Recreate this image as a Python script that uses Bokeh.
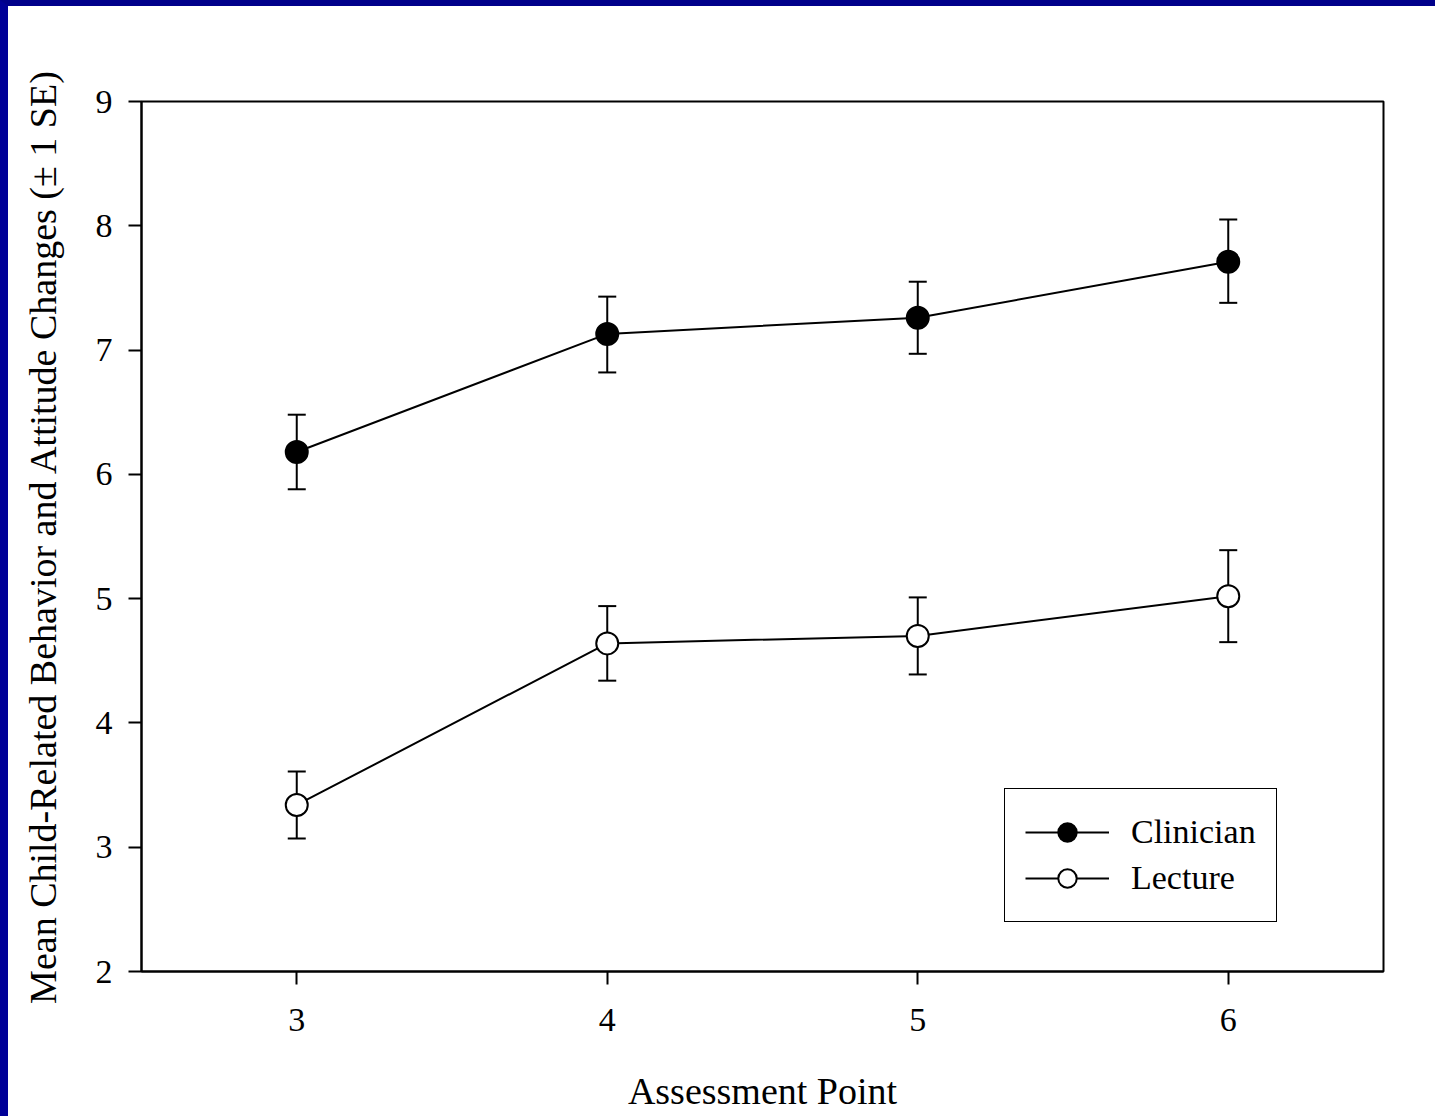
from bokeh.plotting import figure
from bokeh.models import Whisker, TeeHead, ColumnDataSource, Legend, LegendItem, FixedTicker
from bokeh.embed import file_html
from bokeh.resources import INLINE

assessment = [3, 4, 5, 6]
clin_mean = [6.18, 7.13, 7.26, 7.71]
clin_upper = [6.48, 7.43, 7.55, 8.05]
clin_lower = [5.88, 6.82, 6.97, 7.38]
lect_mean = [3.34, 4.64, 4.70, 5.02]
lect_upper = [3.61, 4.94, 5.01, 5.39]
lect_lower = [3.07, 4.34, 4.39, 4.65]
y_ticks = [2, 3, 4, 5, 6, 7, 8, 9]

FONT = "Liberation Serif"

p = figure(width=1427, height=1110, x_range=(2.5, 6.5), y_range=(2, 9),
           output_backend="svg", toolbar_location=None,
           min_border_left=133, min_border_right=52, min_border_top=95, min_border_bottom=145)
p.frame_width = 1242
p.frame_height = 870
p.background_fill_color = "white"
p.border_fill_color = "white"
p.outline_line_color = "black"
p.outline_line_width = 2
p.grid.visible = False
# blue slide frame along the top and left edges
p.styles = {"border-top": "6px solid #00008A", "border-left": "8px solid #000098"}

for ax in (p.xaxis[0], p.yaxis[0]):
    ax.axis_line_color = "black"
    ax.axis_line_width = 2
    ax.major_tick_line_color = "black"
    ax.major_tick_line_width = 2
    ax.major_tick_out = 13
    ax.major_tick_in = 0
    ax.minor_tick_line_color = None
    ax.major_label_text_font = FONT
    ax.major_label_text_font_size = "34px"
    ax.major_label_text_color = "black"
    ax.axis_label_text_font = FONT
    ax.axis_label_text_font_size = "38px"
    ax.axis_label_text_font_style = "normal"
    ax.axis_label_text_color = "black"

p.xaxis.ticker = FixedTicker(ticks=assessment)
p.yaxis.ticker = FixedTicker(ticks=y_ticks)
p.xaxis.axis_label = "Assessment Point"
p.yaxis.axis_label = "Mean Child-Related Behavior and Attitude Changes (± 1 SE)"
p.xaxis.major_label_standoff = 24
p.yaxis.major_label_standoff = 16
p.xaxis.axis_label_standoff = 36
p.yaxis.axis_label_standoff = 29

src_c = ColumnDataSource(dict(x=assessment, y=clin_mean, up=clin_upper, lo=clin_lower))
src_l = ColumnDataSource(dict(x=assessment, y=lect_mean, up=lect_upper, lo=lect_lower))

lc = p.line("x", "y", source=src_c, line_color="black", line_width=2)
ll = p.line("x", "y", source=src_l, line_color="black", line_width=2)

for src in (src_c, src_l):
    w = Whisker(source=src, base="x", upper="up", lower="lo",
                line_color="black", line_width=2,
                upper_head=TeeHead(size=18, line_color="black", line_width=2),
                lower_head=TeeHead(size=18, line_color="black", line_width=2))
    p.add_layout(w)

sc = p.scatter("x", "y", source=src_c, size=22, marker="circle",
               fill_color="black", line_color="black", line_width=2)
sl = p.scatter("x", "y", source=src_l, size=22, marker="circle",
               fill_color="white", line_color="black", line_width=2)

legend = Legend(items=[LegendItem(label="Clinician", renderers=[lc, sc]),
                       LegendItem(label="Lecture", renderers=[ll, sl])],
                location=(863, 49))
legend.label_text_font = FONT
legend.label_text_font_size = "34px"
legend.label_text_color = "black"
legend.border_line_color = "black"
legend.border_line_alpha = 1
legend.border_line_width = 1.5
legend.background_fill_color = "white"
legend.background_fill_alpha = 1
legend.padding = 20
legend.margin = 0
legend.glyph_width = 84
legend.glyph_height = 46
legend.label_height = 40
legend.label_standoff = 22
legend.spacing = 0
p.add_layout(legend, "center")

open("out.html", "w").write(file_html(p, INLINE))
